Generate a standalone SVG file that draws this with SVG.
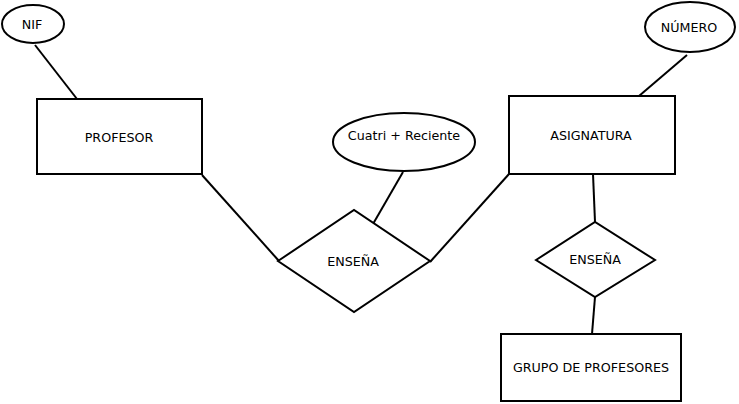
<svg xmlns="http://www.w3.org/2000/svg" width="739" height="404" viewBox="0 0 739 404">
<style>
.s{fill:#fff;stroke:#000;stroke-width:2}
.c{fill:none;stroke:#000;stroke-width:2}
text{font-family:"DejaVu Sans",sans-serif;font-size:12.7px;fill:#000;text-anchor:middle;dominant-baseline:central}
</style>
<rect width="739" height="404" fill="#fff"/>
<g id="connectors">
<line class="c" x1="35" y1="45" x2="77" y2="99"/>
<line class="c" x1="202" y1="175" x2="279" y2="261"/>
<line class="c" x1="403" y1="172" x2="373" y2="224"/>
<line class="c" x1="430" y1="262" x2="509" y2="174"/>
<line class="c" x1="687" y1="55" x2="639" y2="96"/>
<line class="c" x1="593" y1="174" x2="595" y2="222"/>
<line class="c" x1="595" y1="297" x2="592" y2="334"/>
</g>
<g id="nif"><ellipse class="s" cx="33" cy="24" rx="31" ry="19"/><text x="32" y="24">NIF</text></g>
<g id="profesor"><rect class="s" x="37" y="99" width="165" height="75"/><text x="119" y="137">PROFESOR</text></g>
<g id="cuatri"><ellipse class="s" cx="404" cy="142" rx="71" ry="29"/><text x="404" y="135">Cuatri + Reciente</text></g>
<g id="ensena1"><polygon class="s" points="278,261 354,210 430,261 354,312"/><text x="353" y="261">ENSEÑA</text></g>
<g id="numero"><ellipse class="s" cx="690" cy="27" rx="45" ry="25"/><text x="689" y="27">NÚMERO</text></g>
<g id="asignatura"><rect class="s" x="509" y="96" width="166" height="78"/><text x="591" y="135">ASIGNATURA</text></g>
<g id="ensena2"><polygon class="s" points="536,260 595,222 655,260 595,297"/><text x="595" y="259">ENSEÑA</text></g>
<g id="grupo"><rect class="s" x="501" y="334" width="180" height="67"/><text x="591" y="367">GRUPO DE PROFESORES</text></g>
</svg>
